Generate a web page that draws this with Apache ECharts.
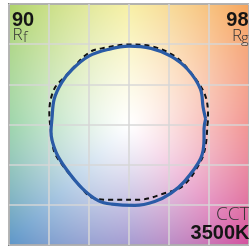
<!DOCTYPE html>
<html><head><meta charset="utf-8">
<script src="https://cdn.jsdelivr.net/npm/echarts@6/dist/echarts.min.js"></script>
<style>html,body{margin:0;padding:0;background:#fff}#c{width:249px;height:247px}</style>
</head><body><div id="c"></div>
<script>
// Test source (solid) vertices, normalized chroma coordinates
const testX = [0.958, 0.926, 0.893, 0.732, 0.522, 0.275, 0.000, -0.256, -0.502, -0.709, -0.840, -0.935, -0.963, -0.975, -0.914, -0.790, -0.585, -0.379, -0.215, 0.074, 0.321, 0.522, 0.691, 0.896, 0.938, 0.938];
const testY = [0.070, 0.219, 0.441, 0.688, 0.852, 0.947, 0.975, 0.935, 0.852, 0.688, 0.525, 0.317, 0.070, -0.094, -0.341, -0.547, -0.794, -0.951, -0.991, -1.007, -0.958, -0.857, -0.711, -0.423, -0.177, -0.053];
// Reference source (dashed) vertices
const refX = [0.979, 0.988, 0.954, 0.769, 0.568, 0.275, 0.000, -0.296, -0.502, -0.790, -0.935, -0.996, -0.975, -0.935, -0.832, -0.620, -0.462, -0.219, 0.115, 0.444, 0.680, 0.895, 0.958];
const refY = [-0.012, 0.070, 0.358, 0.651, 0.852, 0.975, 0.996, 0.956, 0.894, 0.605, 0.441, 0.157, -0.094, -0.337, -0.506, -0.760, -0.909, -0.938, -0.938, -0.856, -0.760, -0.460, -0.259];
const axisMin = -1.5, axisMax = 1.5, axisStep = 0.5;
const rfValue = '90', rgValue = '98', cctLabel = 'CCT', cctValue = '3500K';

function closedPairs(xs, ys){ const d = xs.map((x,i)=>[x, ys[i]]); d.push(d[0]); return d; }

const chart = echarts.init(document.getElementById('c'), null, {renderer:'canvas'});
const axisCommon = {type:'value', min:axisMin, max:axisMax, interval:axisStep,
  axisLabel:{show:false}, axisTick:{show:false}, axisLine:{show:false},
  splitLine:{show:true, lineStyle:{color:'rgba(214,214,214,0.95)', width:1.6}}};
chart.setOption({
  animation:false,
  backgroundColor:'#ffffff',
  grid:{left:9, top:4, width:243, height:241, show:true, borderColor:'#2a2a2a', borderWidth:1.6, backgroundColor:'transparent'},
  xAxis:axisCommon,
  yAxis:axisCommon,
  series:[
    {type:'line', data:closedPairs(refX, refY), smooth:0.35, symbol:'none', z:3,
     lineStyle:{color:'#111', width:2, type:[5,4]}},
    {type:'line', data:closedPairs(testX, testY), smooth:0.35, symbol:'none', z:4,
     lineStyle:{color:'#2a5ba6', width:3.2}}
  ]
});

// decorative hue background
const p0 = chart.convertToPixel({gridIndex:0}, [axisMin, axisMax]);
const p1 = chart.convertToPixel({gridIndex:0}, [axisMax, axisMin]);
const W = Math.round(p1[0]-p0[0]), H = Math.round(p1[1]-p0[1]);
const hueStops = [
  [0, [236,98,93]], [45, [246,164,92]], [90, [243,232,120]], [135, [174,211,106]],
  [180, [109,192,130]], [225, [94,150,200]], [270, [122,106,187]], [315, [212,80,158]], [360, [236,98,93]]
];
function hueColor(a){
  for (let i=0;i<hueStops.length-1;i++){
    const s0=hueStops[i], s1=hueStops[i+1];
    if (a>=s0[0] && a<=s1[0]){ const t=(a-s0[0])/(s1[0]-s0[0]);
      return [0,1,2].map(k=>s0[1][k]+(s1[1][k]-s0[1][k])*t); }
  }
  return hueStops[0][1];
}
const cv = document.createElement('canvas'); cv.width=W; cv.height=H;
const ctx = cv.getContext('2d'); const img = ctx.createImageData(W,H);
for (let py=0; py<H; py++) for (let px=0; px<W; px++){
  const u = axisMin + (axisMax-axisMin)*(px+0.5)/W, v = axisMax - (axisMax-axisMin)*(py+0.5)/H;
  const r = Math.sqrt(u*u+v*v); let a = Math.atan2(v,u)*180/Math.PI; if (a<0) a+=360;
  const s = Math.pow(Math.min(1, r/2.12), 1.15); const c = hueColor(a);
  const o = (py*W+px)*4;
  for (let k=0;k<3;k++) img.data[o+k] = Math.round(255*(1-s)+c[k]*s);
  img.data[o+3]=255;
}
ctx.putImageData(img,0,0);

const light = "300 17px 'Open Sans', 'Liberation Sans', sans-serif";
const bold = "bold 20px 'Liberation Sans', Arial, sans-serif";
chart.setOption({graphic:[
  {type:'image', x:p0[0], y:p0[1], z:-10, silent:true, style:{image:cv, width:W, height:H}},
  {type:'text', x:12, y:20, z:10, style:{text:rfValue, font:bold, fill:'#151515', align:'left', verticalAlign:'middle'}},
  {type:'text', x:12.5, y:35.5, z:10, style:{text:'R', font:light, fill:'#333', align:'left', verticalAlign:'middle'}},
  {type:'text', x:23, y:38, z:10, style:{text:'f', font:"300 15px 'Open Sans', sans-serif", fill:'#333', align:'left', verticalAlign:'middle'}},
  {type:'text', x:248.5, y:20.5, z:10, style:{text:rgValue, font:bold, fill:'#151515', align:'right', verticalAlign:'middle'}},
  {type:'text', x:232, y:36.5, z:10, style:{text:'R', font:light, fill:'#333', align:'left', verticalAlign:'middle'}},
  {type:'text', x:241, y:38.5, z:10, style:{text:'g', font:"300 15px 'Open Sans', sans-serif", fill:'#333', align:'left', verticalAlign:'middle'}},
  {type:'text', x:249.5, y:215, z:10, style:{text:cctLabel, font:"300 19px 'Open Sans', sans-serif", fill:'#333', align:'right', verticalAlign:'middle'}},
  {type:'text', x:249.5, y:233.5, z:10, style:{text:cctValue, font:bold, fill:'#151515', align:'right', verticalAlign:'middle'}}
]});
</script></body></html>
